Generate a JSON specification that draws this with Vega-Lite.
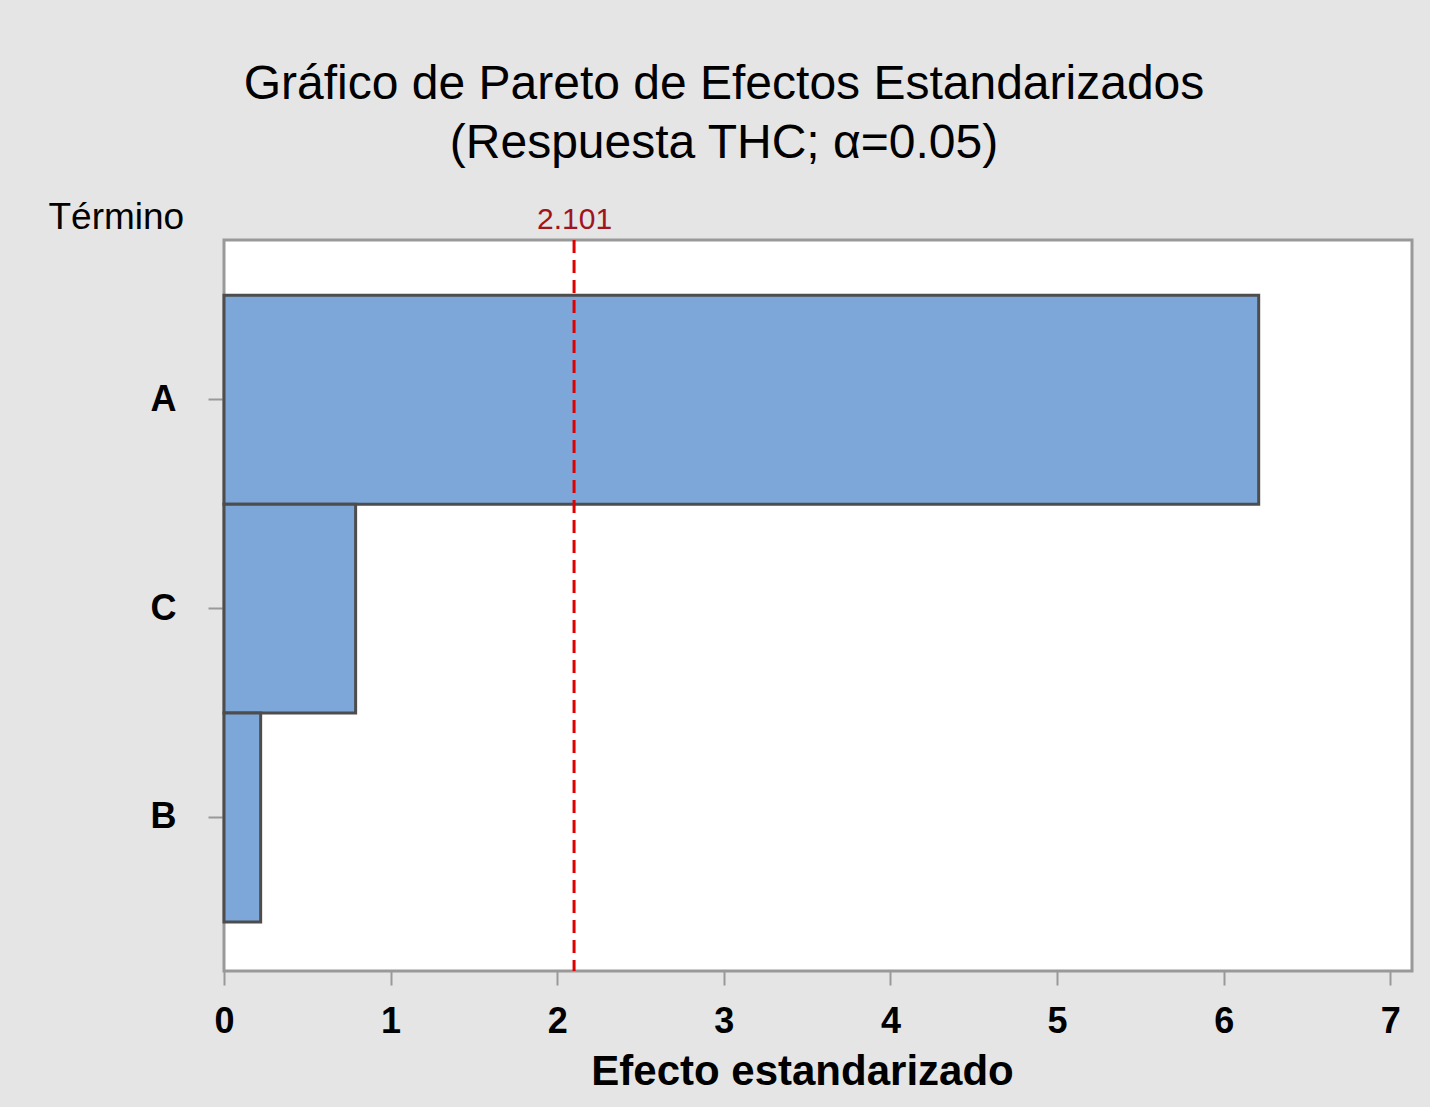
{
  "$schema": "https://vega.github.io/schema/vega-lite/v6.json",
  "autosize": "none",
  "width": 1188,
  "height": 731,
  "padding": {"left": 224, "top": 240, "right": 18, "bottom": 136},
  "background": "#e5e5e5",
  "title": {
    "text": ["Gráfico de Pareto de Efectos Estandarizados", "(Respuesta THC; α=0.05)"],
    "font": "Liberation Sans",
    "fontSize": 48,
    "fontWeight": "normal",
    "color": "#000000",
    "lineHeight": 59,
    "anchor": "middle",
    "frame": "group",
    "dx": -94,
    "offset": 30
  },
  "config": {
    "view": {"fill": "#ffffff", "stroke": "#999999", "strokeWidth": 3},
    "font": "Liberation Sans",
    "axis": {"grid": false, "domain": false, "tickColor": "#999999", "tickWidth": 2, "labelColor": "#000000", "titleColor": "#000000", "labelFont": "Liberation Sans", "titleFont": "Liberation Sans"}
  },
  "layer": [
    {
      "data": {"values": [
        {"Término": "A", "Efecto": 6.21},
        {"Término": "C", "Efecto": 0.79},
        {"Término": "B", "Efecto": 0.22}
      ]},
      "mark": {"type": "bar", "fill": "#7ca7d8", "stroke": "#4d4d4d", "strokeWidth": 3},
      "encoding": {
        "y": {
          "field": "Término", "type": "nominal", "sort": ["A", "C", "B"],
          "scale": {"paddingInner": 0, "paddingOuter": 0.25, "align": 0.53},
          "axis": {
            "title": "Término", "titleAngle": 0, "titleAlign": "left", "titleBaseline": "alphabetic",
            "titleX": -176, "titleY": -12, "titleFontSize": 37, "titleFontWeight": "normal",
            "labelFontSize": 36, "labelFontWeight": "bold", "labelPadding": 32, "tickSize": 16
          }
        },
        "x": {
          "field": "Efecto", "type": "quantitative",
          "scale": {"domain": [0, 7.13], "nice": false},
          "axis": {
            "title": "Efecto estandarizado", "values": [0, 1, 2, 3, 4, 5, 6, 7], "format": "d",
            "labelFontSize": 36, "labelFontWeight": "bold", "labelPadding": 19, "labelFlush": false, "tickSize": 14,
            "titleFontSize": 42, "titleFontWeight": "bold", "titlePadding": 12, "titleX": 578
          }
        }
      }
    },
    {
      "data": {"values": [{"Crítico": 2.101}]},
      "mark": {"type": "rule", "color": "#e00000", "strokeWidth": 3, "strokeDash": [13, 7]},
      "encoding": {
        "x": {
          "field": "Crítico", "type": "quantitative",
          "axis": {"orient": "top", "values": [2.101], "format": ".3f", "title": null, "ticks": false, "labelColor": "#a0141e", "labelFontSize": 30, "labelFontWeight": "normal", "labelPadding": 6}
        }
      }
    }
  ],
  "resolve": {"axis": {"x": "independent"}}
}
